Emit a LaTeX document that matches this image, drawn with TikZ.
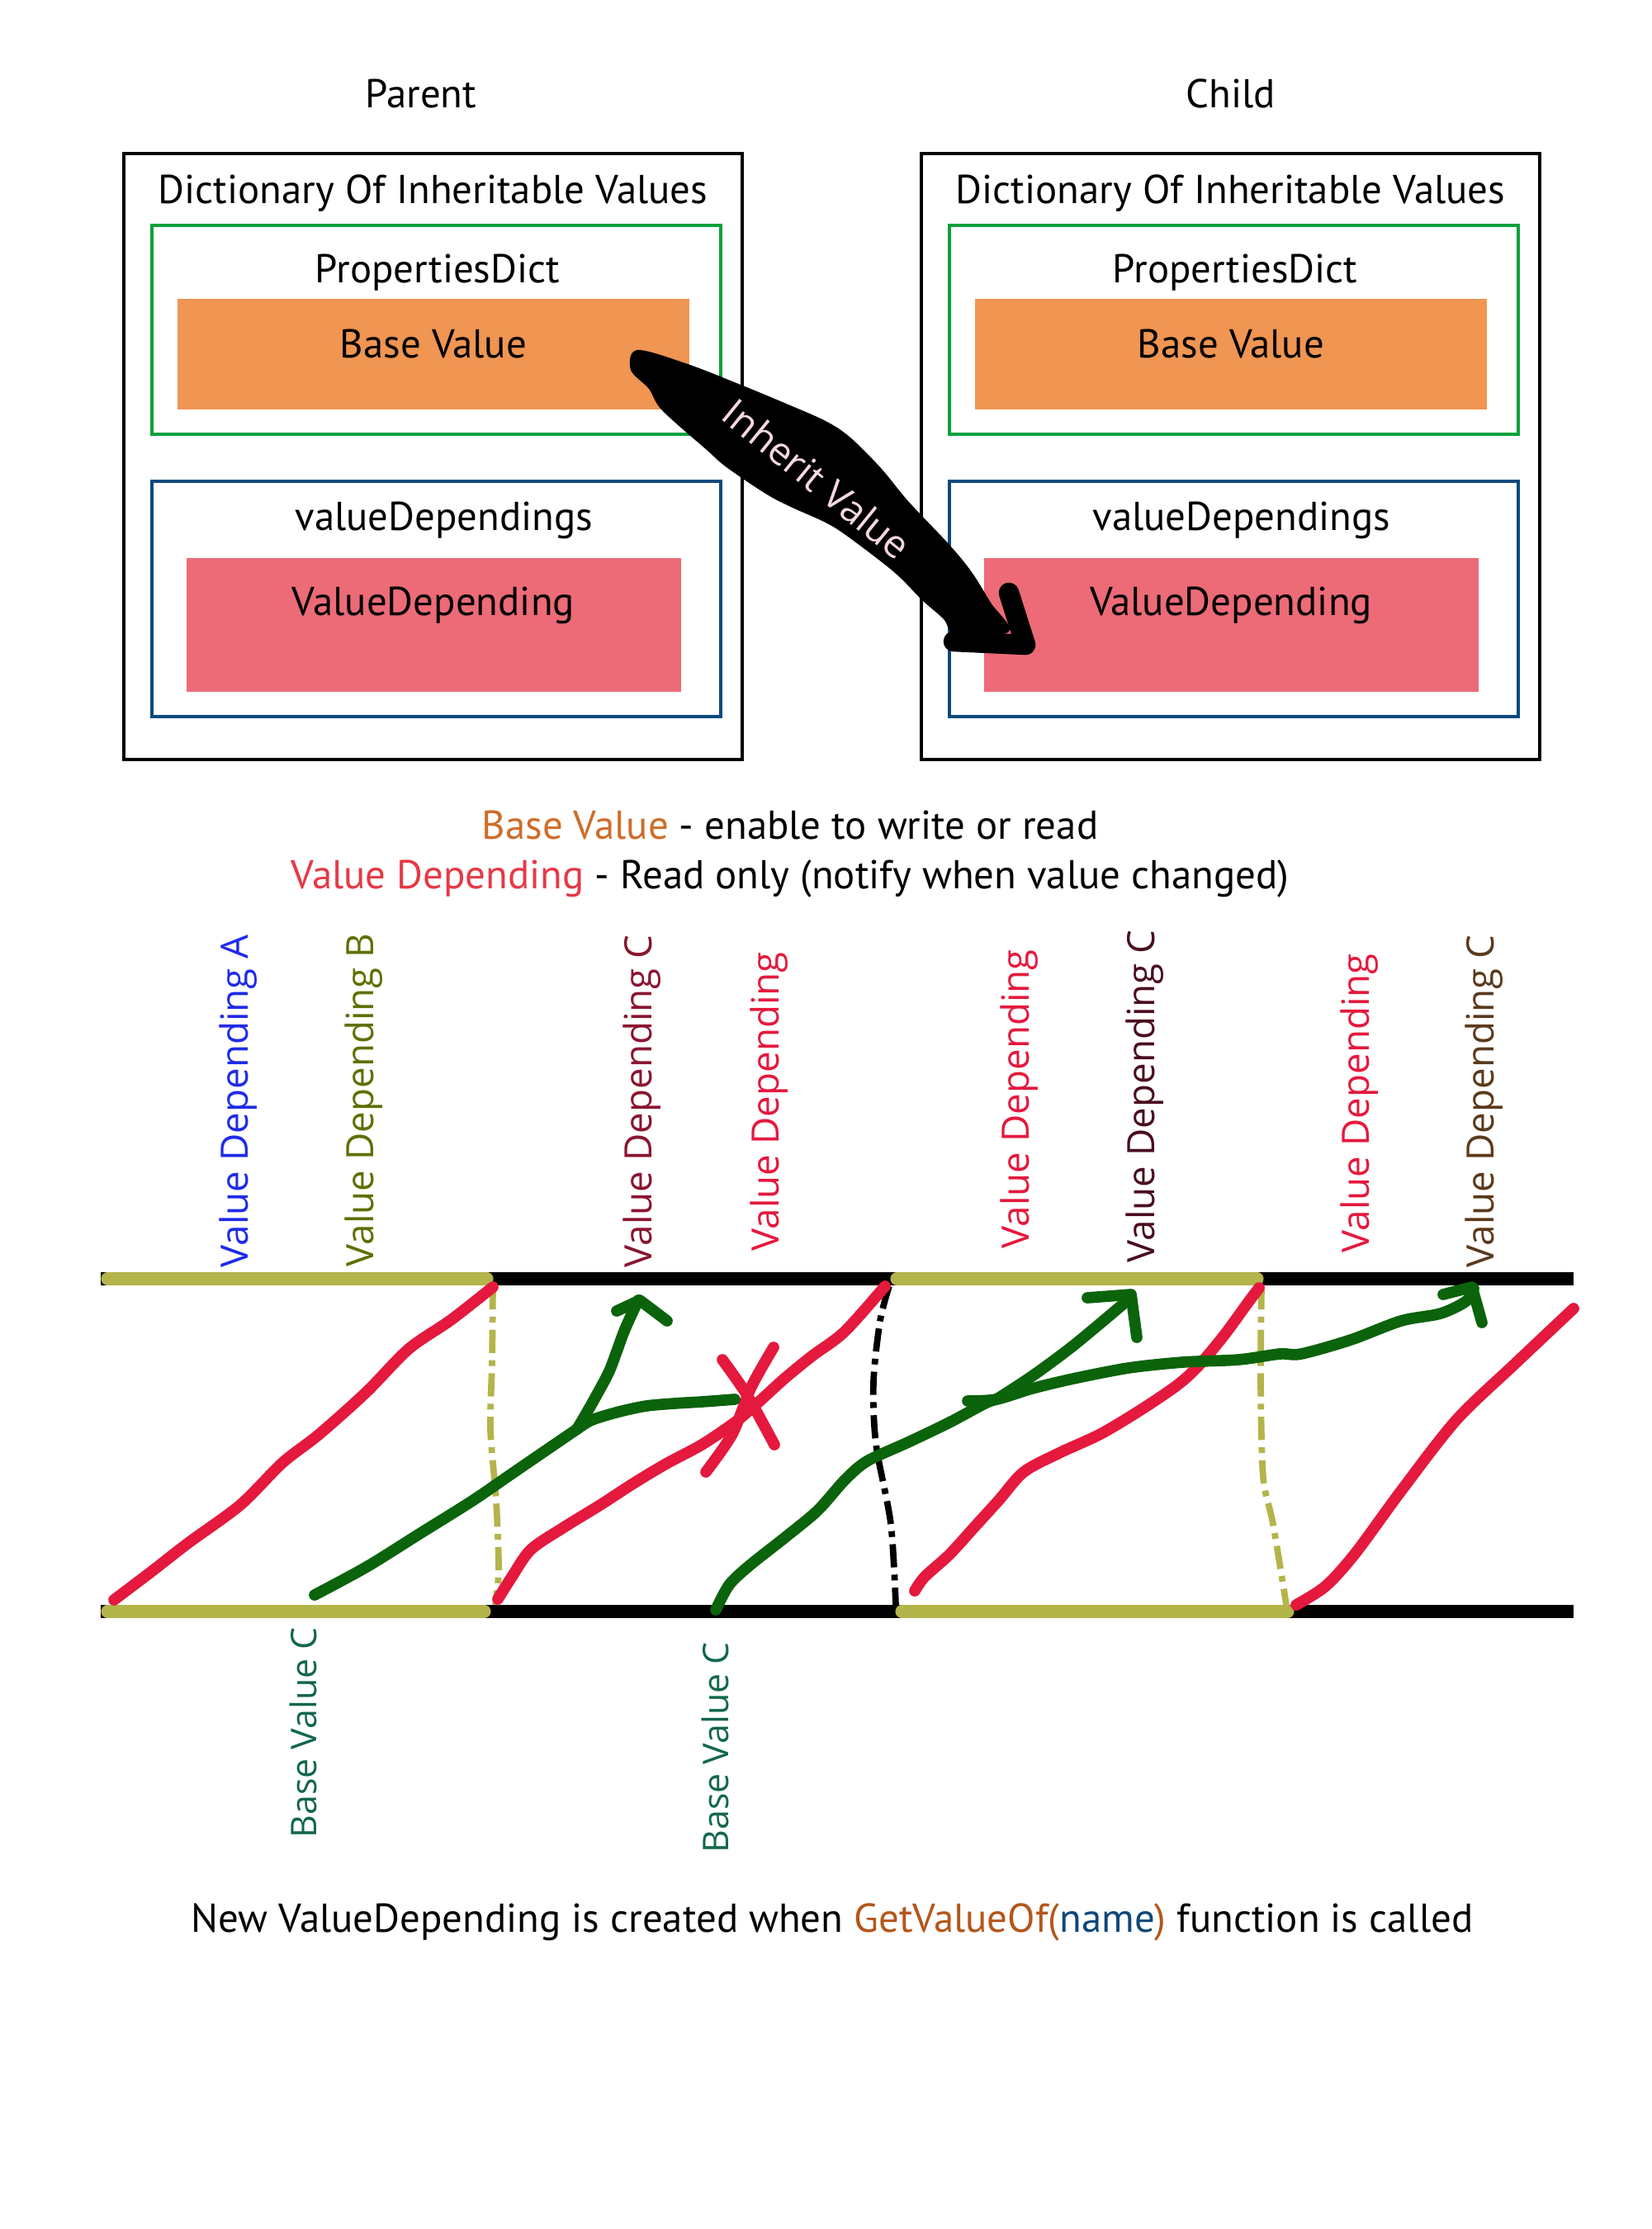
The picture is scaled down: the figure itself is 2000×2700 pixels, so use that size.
\documentclass[tikz,border=0pt]{standalone}
\usepackage{fontspec}
\setmainfont{PT Sans}
\newfontfamily\tagfont{Open Sans}
\usetikzlibrary{positioning}

% Colori del diagramma
\definecolor{boxorange}{HTML}{F09552}
\definecolor{boxred}{HTML}{EC6B77}
\definecolor{dictgreen}{HTML}{0AA03C}
\definecolor{depblue}{HTML}{0B4A7E}
\definecolor{barolive}{HTML}{B3B44A}
\definecolor{flowred}{HTML}{E4193D}
\definecolor{flowgreen}{HTML}{0B630B}
\definecolor{legorange}{HTML}{CF6D2A}
\definecolor{legred}{HTML}{E63946}
\definecolor{funcbrown}{HTML}{B4561B}
\definecolor{argblue}{HTML}{0D477A}
\definecolor{inhpink}{HTML}{F5D8E0}
\definecolor{tagA}{HTML}{1F2BE8}
\definecolor{tagB}{HTML}{5E7000}
\definecolor{tagC}{HTML}{8A1530}
\definecolor{tagCdark}{HTML}{4A0E1E}
\definecolor{tagCbrown}{HTML}{5B3A1C}
\definecolor{tagBase}{HTML}{13664F}

\begin{document}
\begin{tikzpicture}[x=0.1mm, y=-0.1mm,
  testo/.style={font=\fontsize{13.9}{16}\selectfont, inner sep=0pt, anchor=base},
  cornice/.style={draw=black, line width=1pt, minimum width=74.9mm, minimum height=73.4mm, inner sep=0pt},
  dizionario/.style={draw=dictgreen, line width=1.1pt, minimum width=68.9mm, minimum height=25.3mm, inner sep=0pt},
  dipendenze/.style={draw=depblue, line width=1.1pt, minimum width=68.9mm, minimum height=28.5mm, inner sep=0pt},
  valbase/.style={fill=boxorange, minimum width=62mm, minimum height=13.4mm, inner sep=0pt},
  valdip/.style={fill=boxred, minimum width=59.9mm, minimum height=16.2mm, inner sep=0pt},
  etichetta/.style={font=\tagfont\fontsize{13}{15}\selectfont, rotate=90, anchor=base west, inner sep=0pt},
  binario/.style={line width=4.3pt},
  tratto/.style={line width=3.9pt, line cap=round, line join=round},
  separatore/.style={line width=2.2pt, dash pattern=on 8pt off 2.5pt on 2pt off 2.5pt}
]

  % Area della pagina
  \useasboundingbox (0,0) rectangle (2000,2700);

  % Riquadri del genitore
  \node[cornice] (pOut) at (524.5,553) {};
  \node[dizionario] (pDict) at (528.5,399.5) {};
  \node[valbase] (pBase) at (525,429) {};
  \node[dipendenze] (pDeps) at (528.5,725.5) {};
  \node[valdip] (pDep) at (525.5,757) {};

  % Riquadri del figlio
  \node[cornice] (cOut) at (1490.5,553) {};
  \node[dizionario] (cDict) at (1494.5,399.5) {};
  \node[valbase] (cBase) at (1491,429) {};
  \node[dipendenze] (cDeps) at (1494.5,725.5) {};
  \node[valdip] (cDep) at (1491.5,757) {};

  % Etichette del genitore
  \node[testo] (pName) at (510,131) {Parent};
  \node[testo] (pTitle) at (524.5,247) {Dictionary Of Inheritable Values};
  \node[testo] (pDictTxt) at (530,343) {PropertiesDict};
  \node[testo] (pBaseTxt) at (525,434) {Base Value};
  \node[testo] (pDepsTxt) at (538,642) {valueDependings};
  \node[testo] (pDepTxt) at (525,745) {ValueDepending};

  % Etichette del figlio
  \node[testo] (cName) at (1491,131) {Child};
  \node[testo] (cTitle) at (1490.5,247) {Dictionary Of Inheritable Values};
  \node[testo] (cDictTxt) at (1496,343) {PropertiesDict};
  \node[testo] (cBaseTxt) at (1491,434) {Base Value};
  \node[testo] (cDepsTxt) at (1504,642) {valueDependings};
  \node[testo] (cDepTxt) at (1491,745) {ValueDepending};

  % Freccia di ereditarieta' (pennellata)
  \fill[black] plot[smooth cycle, tension=0.55] coordinates {
    (772,424) (833,441) (897,466) (950,488) (1000,510) (1030,530)
    (1067,567) (1100,607) (1150,660) (1177,693) (1200,730) (1222,765)
    (1160,772) (1143,750) (1117,727) (1083,693) (1027,650) (1000,633)
    (960,615) (929,599) (880,566) (856,545) (802,497) (786,471) (764,448)};
  \draw[line width=7pt, line cap=round, line join=round] (1155,777) -- (1242,781) -- (1222,718);
  \node[font=\tagfont\fontsize{13.3}{15}\selectfont, text=inhpink, rotate=-39, inner sep=0pt] (inherit) at (990,580) {Inherit Value};

  % Legenda
  \node[testo] (legBase) at (957,1016) {\textcolor{legorange}{Base Value} - enable to write or read};
  \node[testo] (legDep) at (957,1076) {\textcolor{legred}{Value Depending} - Read only (notify when value changed)};

  % Binari superiore e inferiore
  \draw[binario, black] (122,1549) -- (1906,1549);
  \draw[binario, black] (122,1952) -- (1906,1952);
  \draw[binario, barolive, line cap=round] (130,1549) -- (590,1549);
  \draw[binario, barolive, line cap=round] (1086,1549) -- (1523,1549);
  \draw[binario, barolive, line cap=round] (130,1952) -- (587,1952);
  \draw[binario, barolive, line cap=round] (1092,1952) -- (1560,1952);

  % Separatori tratteggiati
  \draw[separatore, barolive] plot[smooth] coordinates {(597,1558) (596,1650) (594,1731) (601,1818) (604,1900) (600,1944)};
  \draw[separatore, black] plot[smooth] coordinates {(1077,1558) (1066,1600) (1058,1674) (1061,1749) (1079,1846) (1085,1944)};
  \draw[separatore, barolive] plot[smooth] coordinates {(1528,1558) (1527,1674) (1530,1789) (1542,1846) (1558,1944)};

  % Curve rosse (ValueDepending)
  \draw[tratto, flowred] plot[smooth] coordinates {(138,1938) (183,1904) (228,1869) (291,1823) (342,1772) (387,1737) (444,1686) (495,1634) (546,1599) (597,1559)};
  \draw[tratto, flowred] plot[smooth] coordinates {(603,1937) (620,1910) (643,1877) (683,1850) (727,1823) (767,1797) (807,1773) (850,1750) (890,1723) (917,1700) (950,1670) (983,1643) (1023,1613) (1072,1558)};
  \draw[tratto, flowred] plot[smooth] coordinates {(1108,1927) (1120,1910) (1150,1883) (1180,1850) (1210,1817) (1240,1783) (1283,1760) (1333,1737) (1383,1707) (1427,1677) (1453,1653) (1483,1617) (1510,1580) (1525,1560)};
  \draw[tratto, flowred] plot[smooth] coordinates {(1570,1944) (1606,1921) (1642,1881) (1697,1806) (1764,1720) (1836,1651) (1906,1585)};

  % Croce rossa
  \draw[tratto, flowred] plot[smooth] coordinates {(875,1647) (905,1690) (938,1750)};
  \draw[tratto, flowred] plot[smooth] coordinates {(937,1632) (910,1680) (887,1737) (855,1783)};

  % Curve verdi (Base Value C)
  \draw[tratto, flowgreen] plot[smooth] coordinates {(381,1932) (444,1898) (508,1858) (572,1818) (623,1783) (699,1731)};
  \draw[tratto, flowgreen] plot[smooth] coordinates {(699,1731) (717,1700) (737,1663) (747,1637) (757,1610) (773,1575)};
  \draw[tratto, flowgreen] (747,1588) -- (775,1575) -- (808,1600);
  \draw[tratto, flowgreen] plot[smooth] coordinates {(699,1731) (717,1720) (750,1710) (783,1703) (817,1700) (850,1698) (890,1695)};

  \draw[tratto, flowgreen] plot[smooth] coordinates {(867,1950) (883,1920) (907,1897) (950,1863) (990,1830) (1023,1793) (1050,1770) (1100,1747) (1150,1723) (1193,1700) (1207,1695)};
  \draw[tratto, flowgreen] plot[smooth] coordinates {(1207,1695) (1250,1667) (1300,1630) (1360,1580)};
  \draw[tratto, flowgreen] (1317,1572) -- (1370,1568) -- (1377,1620);
  \draw[tratto, flowgreen] plot[smooth] coordinates {(1172,1697) (1207,1695) (1250,1682) (1300,1670) (1367,1657) (1433,1650) (1500,1647) (1550,1640) (1576,1640) (1636,1623) (1697,1600) (1745,1591) (1776,1576) (1785,1561)};
  \draw[tratto, flowgreen] (1748,1568) -- (1783,1559) -- (1795,1602);

  % Etichette verticali superiori
  \node[etichetta, text=tagA] (vdA) at (300,1536) {Value Depending A};
  \node[etichetta, text=tagB] (vdB) at (452,1535) {Value Depending B};
  \node[etichetta, text=tagC] (vdC1) at (789,1536) {Value Depending C};
  \node[etichetta, text=flowred] (vd1) at (943,1516) {Value Depending};
  \node[etichetta, text=flowred] (vd2) at (1246,1513) {Value Depending};
  \node[etichetta, text=tagCdark] (vdC2) at (1398,1530) {Value Depending C};
  \node[etichetta, text=flowred] (vd3) at (1658,1518) {Value Depending};
  \node[etichetta, text=tagCbrown] (vdC3) at (1809,1536) {Value Depending C};

  % Etichette verticali inferiori
  \node[etichetta, text=tagBase, font=\tagfont\fontsize{12.2}{14}\selectfont] (bvC1) at (383,2227) {Base Value C};
  \node[etichetta, text=tagBase, font=\tagfont\fontsize{12.2}{14}\selectfont] (bvC2) at (882,2245) {Base Value C};

  % Nota finale
  \node[testo] (nota) at (1008,2340) {New ValueDepending is created when \textcolor{funcbrown}{GetValueOf(}\textcolor{argblue}{name}\textcolor{funcbrown}{)} function is called};

\end{tikzpicture}
\end{document}
